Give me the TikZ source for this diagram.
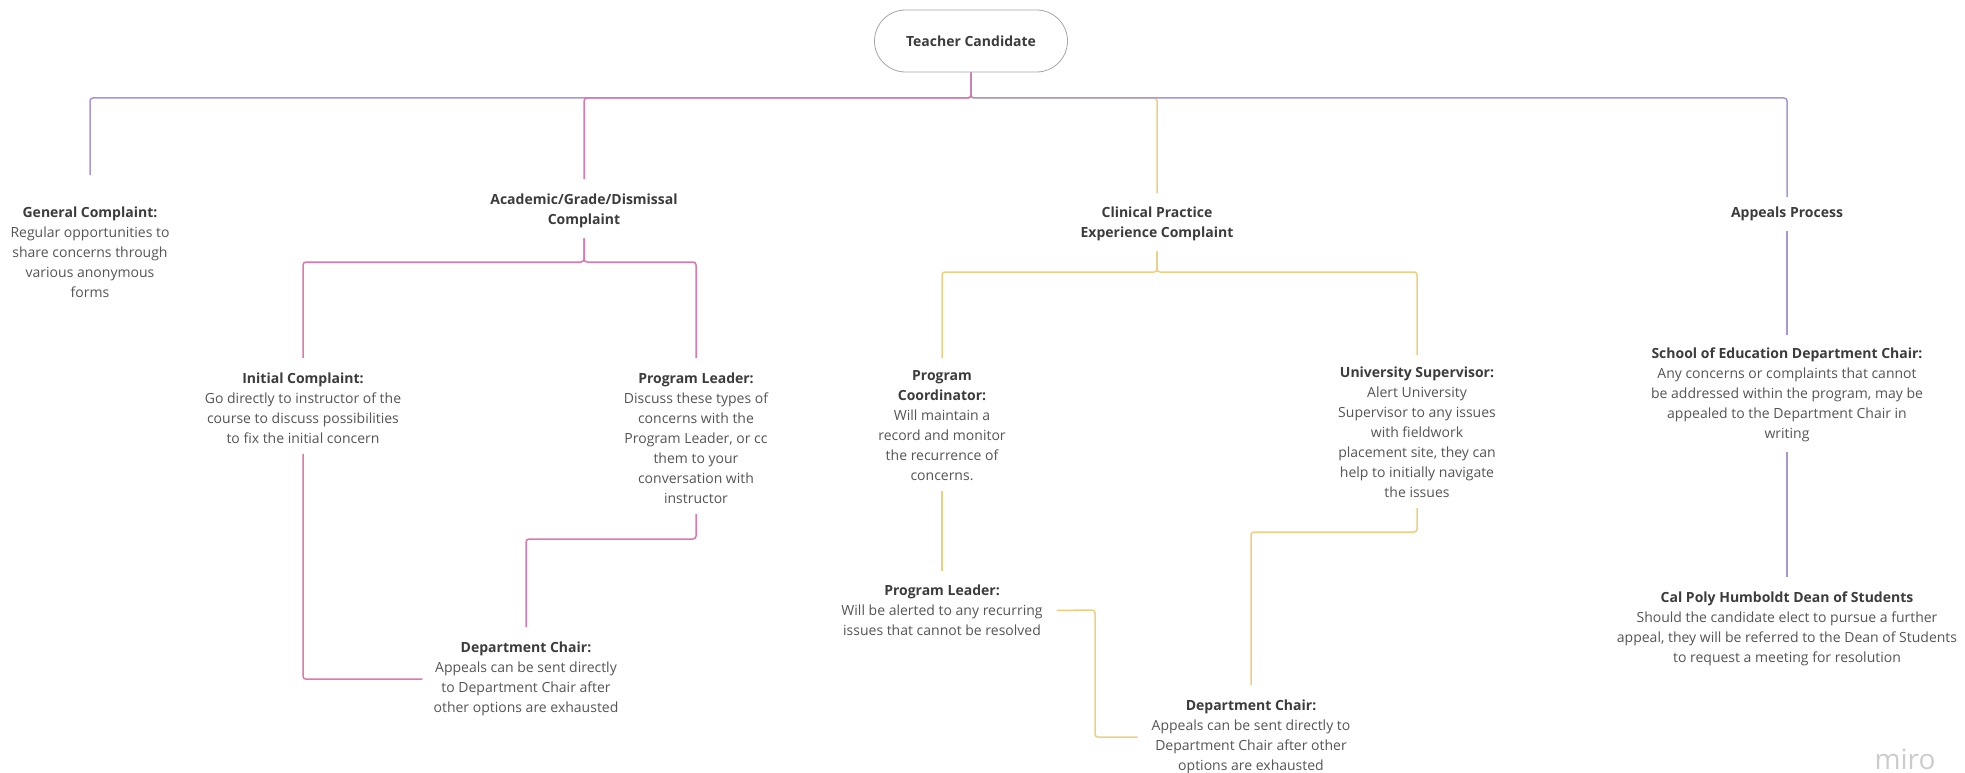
\documentclass[tikz,border=0pt]{standalone}
\usepackage{fontspec}
\setmainfont{Open Sans}
\definecolor{pur}{RGB}{170,150,214}
\definecolor{pnk}{RGB}{226,118,172}
\definecolor{ylw}{RGB}{240,206,128}
\definecolor{txtc}{RGB}{85,85,85}
\definecolor{ttlc}{RGB}{60,60,60}
\definecolor{pillc}{RGB}{165,165,170}
\begin{document}
\begin{tikzpicture}[x=1pt,y=-1pt,
  txt/.style={align=center,inner sep=0pt,text=txtc,font=\fontsize{14}{20}\selectfont,anchor=north},
  conn/.style={line width=1.5pt,rounded corners=3pt},
  pill/.style={draw=pillc,line width=0.8pt,rounded corners=31pt,minimum width=193pt,minimum height=62pt,text=ttlc,font=\fontsize{14}{20}\selectfont\bfseries,fill=white}]
\useasboundingbox (0,0) rectangle (1965,773);
\fill[white] (0,0) rectangle (1965,773);
\newcommand{\ttl}[1]{{\color{ttlc}\bfseries #1}}
% nodes
\node[pill] (root) at (971,41) {Teacher Candidate};
\coordinate (hub) at (971,98);
\node[txt] (gen) at (90,207) {\ttl{General Complaint:}\\Regular opportunities to\\share concerns through\\various anonymous\\forms};
\node[txt] (acad) at (584,194) {\ttl{Academic/Grade/Dismissal}\\\ttl{Complaint}};
\node[txt] (init) at (303,373) {\ttl{Initial Complaint:}\\Go directly to instructor of the\\course to discuss possibilities\\to fix the initial concern};
\node[txt] (pla) at (696,373) {\ttl{Program Leader:}\\Discuss these types of\\concerns with the\\Program Leader, or cc\\them to your\\conversation with\\instructor};
\node[txt] (dca) at (526,642) {\ttl{Department Chair:}\\Appeals can be sent directly\\to Department Chair after\\other options are exhausted};
\node[txt] (clin) at (1157,207) {\ttl{Clinical Practice}\\\ttl{Experience Complaint}};
\node[txt] (pc) at (942,370) {\ttl{Program}\\\ttl{Coordinator:}\\Will maintain a\\record and monitor\\the recurrence of\\concerns.};
\node[txt] (us) at (1417,367) {\ttl{University Supervisor:}\\Alert University\\Supervisor to any issues\\with fieldwork\\placement site, they can\\help to initially navigate\\the issues};
\node[txt] (plc) at (942,585) {\ttl{Program Leader:}\\Will be alerted to any recurring\\issues that cannot be resolved};
\node[txt] (dcc) at (1251,700) {\ttl{Department Chair:}\\Appeals can be sent directly to\\Department Chair after other\\options are exhausted};
\node[txt] (app) at (1787,207) {\ttl{Appeals Process}};
\node[txt] (sch) at (1787,348) {\ttl{School of Education Department Chair:}\\Any concerns or complaints that cannot\\be addressed within the program, may be\\appealed to the Department Chair in\\writing};
\node[txt] (cp) at (1787,592) {\ttl{Cal Poly Humboldt Dean of Students}\\Should the candidate elect to pursue a further\\appeal, they will be referred to the Dean of Students\\to request a meeting for resolution};
\node[text=black!20,font=\fontsize{28}{28}\selectfont] (miro) at (1905,759) {miro};
% level 1 connectors
\draw[conn,ylw,shorten >=14pt] (root.south) -- (hub) -| (clin.north);
\draw[conn,pur,shorten >=10pt] (root.south) -- (hub) -| (app.north);
\draw[conn,pur,shorten >=32pt] (root.south) -- (hub) -| (gen.north);
\draw[conn,pnk,shorten >=15pt] (root.south) -- (hub) -| (acad.north);
% academic branch
\draw[conn,pnk,shorten <=10pt,shorten >=15pt] (acad.south) -- (584,262) -| (init.north);
\draw[conn,pnk,shorten <=10pt,shorten >=15pt] (acad.south) -- (584,262) -| (pla.north);
\draw[conn,pnk,shorten <=10pt,shorten >=11pt] (init.south) |- (dca.west);
\draw[conn,pnk,shorten <=10pt,shorten >=15pt] (pla.south) -- (696,539) -| (dca.north);
% clinical branch
\draw[conn,ylw,shorten <=10pt,shorten >=12pt] (clin.south) -- (1157,272) -| (pc.north);
\draw[conn,ylw,shorten <=10pt,shorten >=12pt] (clin.south) -- (1157,272) -| (us.north);
\draw[conn,ylw,shorten <=10pt,shorten >=14pt] (pc.south) -- (plc.north);
\draw[conn,ylw,shorten <=10pt,shorten >=15pt] (us.south) -- (1417,532) -| (dcc.north);
\draw[conn,ylw,shorten <=14pt,shorten >=14pt] (plc.east) -- (1095,610) |- (dcc.west);
% appeals branch
\draw[conn,pur,shorten <=10pt,shorten >=13pt] (app.south) -- (sch.north);
\draw[conn,pur,shorten <=10pt,shorten >=15pt] (sch.south) -- (cp.north);
\end{tikzpicture}
\end{document}
